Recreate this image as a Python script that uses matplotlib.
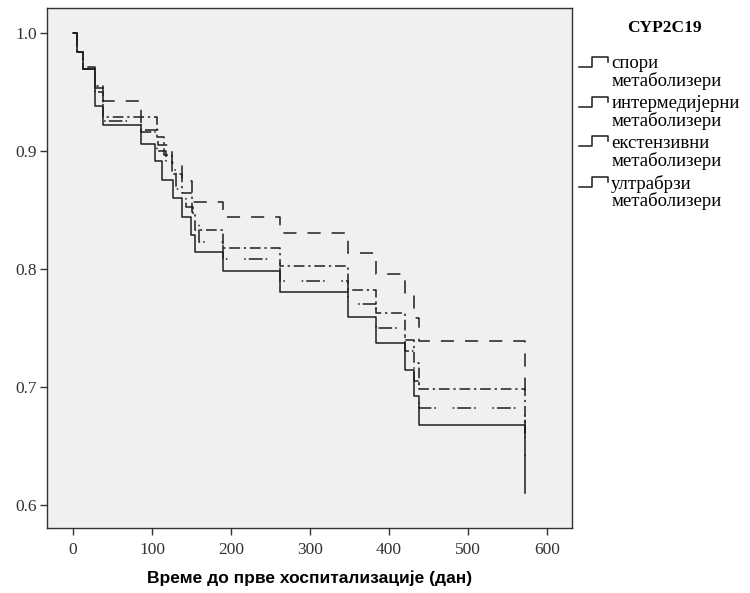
import matplotlib
matplotlib.use('Agg')
import matplotlib.pyplot as plt
from matplotlib.legend_handler import HandlerBase
from matplotlib.lines import Line2D

# време до догађаја (дан) и кумулативно преживљавање по групама
t_spori = [0, 5, 13, 28, 38, 86, 104, 112, 126, 138, 149, 154, 190, 262, 348, 384, 420, 432, 438, 572]
s_spori = [1.0, 0.984, 0.969, 0.9375, 0.922, 0.906, 0.891, 0.875, 0.860, 0.844, 0.829, 0.814,
           0.798, 0.780, 0.759, 0.7375, 0.714, 0.692, 0.668, 0.610]

t_inter = [0, 5, 13, 28, 38, 86, 106, 118, 130, 143, 152, 160, 190, 262, 348, 384, 420, 432, 438, 572]
s_inter = [1.0, 0.984, 0.969, 0.950, 0.925, 0.916, 0.900, 0.884, 0.868, 0.852, 0.838, 0.823,
           0.808, 0.790, 0.770, 0.750, 0.730, 0.705, 0.682, 0.640]

t_ekst = [0, 5, 13, 28, 38, 86, 108, 125, 138, 150, 190, 262, 348, 384, 420, 432, 438, 572]
s_ekst = [1.0, 0.984, 0.971, 0.953, 0.942, 0.918, 0.905, 0.890, 0.874, 0.857, 0.844, 0.830,
          0.813, 0.796, 0.777, 0.758, 0.739, 0.690]

t_ultra = [0, 5, 13, 28, 38, 106, 115, 125, 138, 150, 155, 190, 262, 348, 384, 420, 432, 438, 572]
s_ultra = [1.0, 0.984, 0.969, 0.955, 0.9285, 0.912, 0.896, 0.880, 0.864, 0.848, 0.8325, 0.818,
           0.802, 0.782, 0.7625, 0.740, 0.720, 0.698, 0.660]

labels = ['спори\nметаболизери', 'интермедијерни\nметаболизери',
          'екстензивни\nметаболизери', 'ултрабрзи\nметаболизери']

x_ticks = [0, 100, 200, 300, 400, 500, 600]
y_ticks = [0.6, 0.7, 0.8, 0.9, 1.0]

line_col = '#1e1e1e'
dash_styles = ['-', (0, (1, 2, 9, 2, 1, 11)), (0, (8.6, 7.2)), (0, (7, 2.5, 1.5, 2.5))]


class StepHandler(HandlerBase):
    # мала степеница уз први ред текста у легенди
    def create_artists(self, legend, orig_handle, xdescent, ydescent, width, height, fontsize, trans):
        x0, y0 = -xdescent, -ydescent + 0.3 * fontsize + 3.7
        xs = [x0, x0 + 0.45 * width, x0 + 0.45 * width, x0 + width, x0 + width]
        ys = [y0, y0, y0 + height, y0 + height, y0 + 0.5 * height]
        ln = Line2D(xs, ys, color=orig_handle.get_color(), lw=orig_handle.get_linewidth(),
                    linestyle='-')
        ln.set_transform(trans)
        return [ln]


fig = plt.figure(figsize=(7.5, 5.93), dpi=100)
ax = fig.add_axes([0.0623, 0.1096, 0.7004, 0.8769])
ax.set_facecolor('#f0f0f0')

handles = []
for (t, s), ls, lab in zip([(t_spori, s_spori), (t_inter, s_inter), (t_ekst, s_ekst), (t_ultra, s_ultra)],
                          dash_styles, labels):
    h, = ax.step(t, s, where='post', color=line_col, lw=1.1, linestyle=ls, label=lab)
    handles.append(h)

ax.set_xlim(-33.3, 631.6)
ax.set_ylim(0.5805, 1.0209)
ax.set_xticks(x_ticks)
ax.set_yticks(y_ticks)
ax.set_yticklabels(['%.1f' % v for v in y_ticks])
ax.tick_params(direction='out', length=5, width=1, color='#333333', labelsize=12.5,
               labelcolor='#333333')
ax.tick_params(axis='x', pad=5)
ax.tick_params(axis='y', pad=2)
for lbl in ax.get_xticklabels() + ax.get_yticklabels():
    lbl.set_family('Liberation Serif')
for sp in ax.spines.values():
    sp.set_color('#333333')
    sp.set_linewidth(1)

ax.set_xlabel('Време до прве хоспитализације (дан)', family='Liberation Sans',
              fontweight='bold', fontsize=12.5, labelpad=9)

# наслов легенде посебно, изнад ставки
fig.text(664 / 750, 1 - 28 / 593, 'CYP2C19', family='Liberation Serif', fontweight='bold',
         fontsize=12.5, ha='center', va='center')

leg = fig.legend(handles=handles, labels=labels, loc='upper left',
                 bbox_to_anchor=(0.760, 1 - 46 / 593), frameon=False, borderpad=0,
                 handler_map={Line2D: StepHandler()},
                 handlelength=1.5, handleheight=0.45, handletextpad=0.2, labelspacing=0.27,
                 prop={'family': 'Liberation Serif', 'size': 13.5})
for txt in leg.get_texts():
    txt.set_linespacing(0.98)

fig.savefig('out.png', dpi=100)
